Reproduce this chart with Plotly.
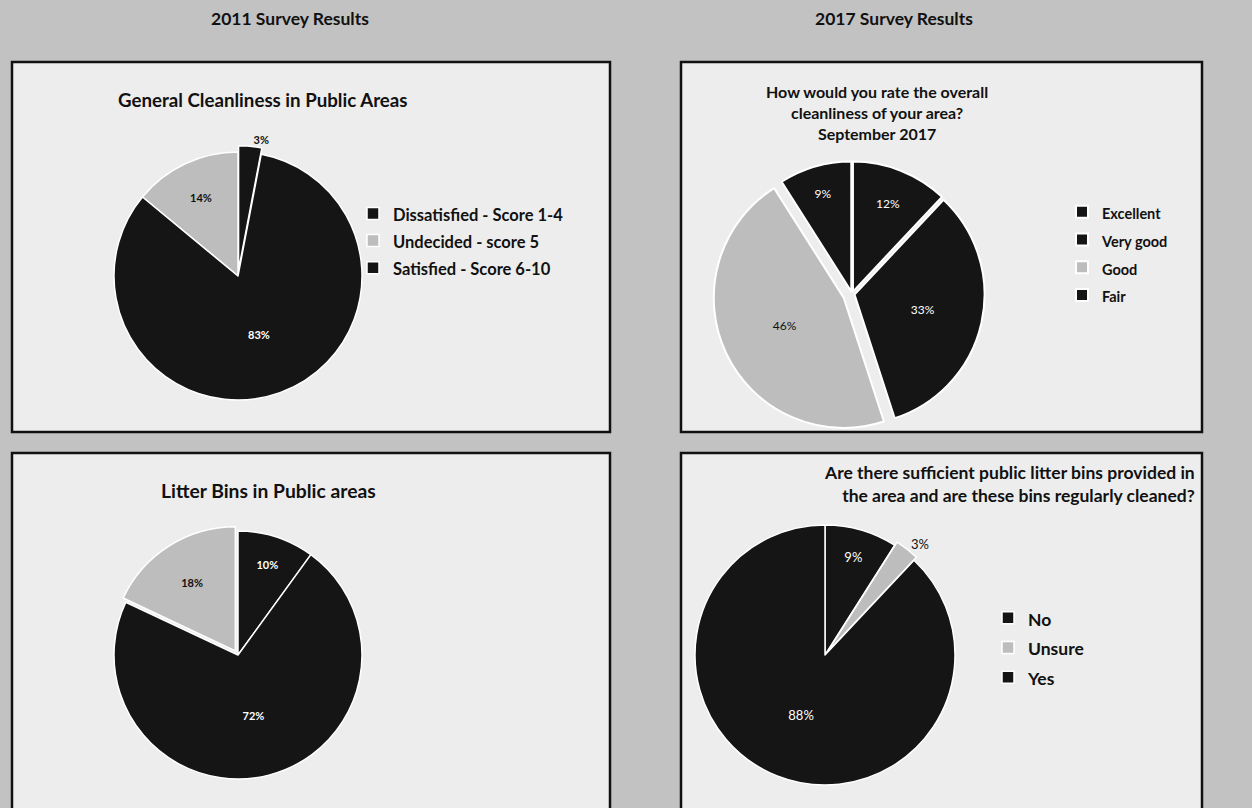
import plotly.graph_objects as go

W, H = 1252, 808
FONT = "Lato, 'Open Sans', sans-serif"

# ---- 2011 survey (satisfaction scores) ----
cats_2011 = ["Dissatisfied - Score 1-4", "Undecided - score 5", "Satisfied - Score 6-10"]
cleanliness_2011 = [3, 14, 83]
litter_bins_2011 = [10, 18, 72]

# ---- 2017 survey ----
cats_rating_2017 = ["Excellent", "Very good", "Good", "Fair"]
cleanliness_2017 = [12, 33, 46, 9]
cats_bins_2017 = ["No", "Unsure", "Yes"]
litter_bins_2017 = [9, 3, 88]

DARK = "#151515"
LIGHT = "#bdbdbd"
OUTER_BG = "#c2c2c2"
PANEL_BG = "#ededed"


def domain(cx, cy, half):
    """Pixel centre/half-size -> paper domain."""
    return dict(x=[(cx - half) / W, (cx + half) / W],
                y=[1 - (cy + half) / H, 1 - (cy - half) / H])


def legend_labels(cats, size):
    # legend font sets the row pitch; the span sets the drawn size
    return [f"<span style='font-size:{size}px'><b>{c}</b></span>" for c in cats]


fig = go.Figure()

# General cleanliness 2011
fig.add_trace(go.Pie(
    labels=legend_labels(cats_2011, 16.5), values=cleanliness_2011,
    sort=False, direction="counterclockwise", rotation=0,
    marker=dict(colors=[DARK, LIGHT, DARK], line=dict(color="white", width=1.5)),
    pull=[0.05, 0, 0],
    texttemplate="<b>%{percent:.0%}</b>", textposition=["outside", "inside", "inside"],
    insidetextorientation="horizontal",
    textfont=dict(family=FONT, size=11, color=["#111", "#111", "white"]),
    domain=domain(238, 276, 124 * 1.05), legend="legend",
))

# Litter bins 2011
fig.add_trace(go.Pie(
    labels=legend_labels(cats_2011, 16.5), values=litter_bins_2011,
    sort=False, direction="counterclockwise", rotation=0,
    marker=dict(colors=[DARK, LIGHT, DARK], line=dict(color="white", width=1.5)),
    pull=[0, 0.04, 0],
    texttemplate="<b>%{percent:.0%}</b>", textposition="inside",
    insidetextorientation="horizontal",
    textfont=dict(family=FONT, size=11, color=["white", "#111", "white"]),
    domain=domain(238, 655, 124 * 1.04), legend="legend2",
))

# Cleanliness rating 2017
fig.add_trace(go.Pie(
    labels=legend_labels(cats_rating_2017, 14.5), values=cleanliness_2017,
    sort=False, direction="clockwise", rotation=0,
    marker=dict(colors=[DARK, DARK, LIGHT, DARK], line=dict(color="white", width=2)),
    pull=[0.02, 0.02, 0.07, 0.02],
    texttemplate="%{percent:.0%}", textposition="inside",
    insidetextorientation="horizontal",
    textfont=dict(family=FONT, size=12, color=["white", "white", "#111", "white"]),
    domain=domain(852, 294, 130 * 1.07), legend="legend3",
))

# Litter bins 2017
fig.add_trace(go.Pie(
    labels=legend_labels(cats_bins_2017, 17.5), values=litter_bins_2017,
    sort=False, direction="clockwise", rotation=0,
    marker=dict(colors=[DARK, LIGHT, DARK], line=dict(color="white", width=1.5)),
    pull=[0, 0.03, 0],
    texttemplate="%{percent:.0%}", textposition=["inside", "outside", "inside"],
    insidetextorientation="horizontal",
    textfont=dict(family=FONT, size=13, color=["white", "#111", "white"]),
    domain=domain(825, 655, 130 * 1.03), legend="legend4",
))

# Panel frames
panels = [(12, 62, 610, 432), (681, 62, 1202, 432),
          (12, 453, 610, 830), (681, 453, 1202, 830)]
shapes = [dict(type="rect", xref="paper", yref="paper", layer="below",
               x0=x0 / W, x1=x1 / W, y0=1 - y1 / H, y1=1 - y0 / H,
               line=dict(color="#111", width=2.5), fillcolor=PANEL_BG)
          for x0, y0, x1, y1 in panels]


def note(text, x, y, size, xanchor="center", align="center"):
    return dict(text=text, x=x / W, y=1 - y / H, xref="paper", yref="paper",
                xanchor=xanchor, yanchor="middle", align=align, showarrow=False,
                font=dict(family=FONT, size=size, color="#111"))


annotations = [
    note("<b>2011 Survey Results</b>", 290, 18, 17.5),
    note("<b>2017 Survey Results</b>", 894, 18, 17.5),
    note("<b>General Cleanliness in Public Areas</b>", 263, 100, 18.7),
    note("<b>Litter Bins in Public areas</b>", 268, 490, 19.3),
    note("<b>How would you rate the overall<br>cleanliness of your area?<br>September 2017</b>",
         877, 112, 16),
    note("<b>Are there sufficient public litter bins provided in<br>"
         "the area and are these bins regularly cleaned?</b>",
         1197, 484, 17.5, xanchor="right", align="right"),
]


def legend_box(x, y, size):
    return dict(x=x / W, y=1 - y / H, xanchor="left", yanchor="top",
                bgcolor="rgba(0,0,0,0)", font=dict(family=FONT, size=size, color="#111"),
                itemclick=False, itemdoubleclick=False)


fig.update_layout(
    width=W, height=H, margin=dict(l=0, r=0, t=0, b=0),
    paper_bgcolor=OUTER_BG, plot_bgcolor=OUTER_BG,
    shapes=shapes, annotations=annotations,
    legend=legend_box(353, 195, 18.5),
    legend2=legend_box(353, 578, 18.5),
    legend3=legend_box(1062, 193, 19),
    legend4=legend_box(988, 598, 20.5),
    showlegend=True,
)

fig.write_html("out.html")
